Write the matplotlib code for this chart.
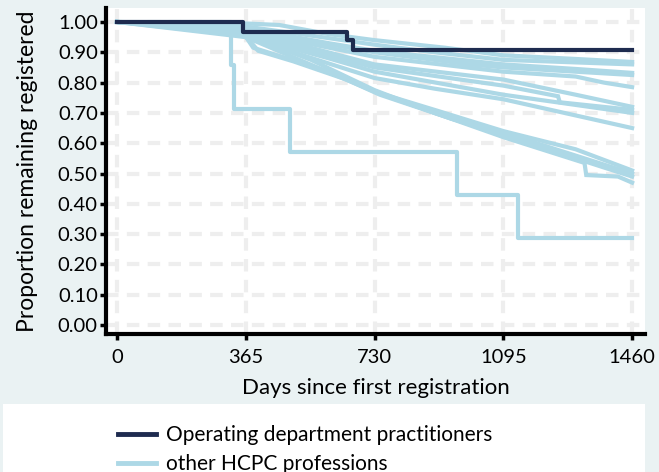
import matplotlib
matplotlib.use('Agg')
import matplotlib.pyplot as plt
from matplotlib.patches import Rectangle
from matplotlib.lines import Line2D

plt.rcParams['font.family'] = ['Lato', 'DejaVu Sans']

# operating department practitioners (step curve)
odp_days = [0, 357, 652, 669, 1460]
odp_surv = [1.0, 0.967, 0.94, 0.907, 0.907]

# small profession, drawn as a step curve
small_days = [0, 322, 332, 490, 963, 1137, 1460]
small_surv = [1.0, 0.857, 0.714, 0.571, 0.429, 0.286, 0.286]

c1_days = [0, 130, 365, 460, 600, 730, 930, 1095, 1300, 1460]
c1_surv = [1.0, 0.998, 0.995, 0.99, 0.96, 0.94, 0.915, 0.89, 0.878, 0.868]
c2_days = [0, 150, 365, 550, 730, 900, 1095, 1460]
c2_surv = [1.0, 0.995, 0.985, 0.955, 0.925, 0.9, 0.875, 0.86]
c3_days = [0, 200, 365, 600, 730, 1095, 1300, 1460]
c3_surv = [1.0, 0.99, 0.98, 0.93, 0.905, 0.86, 0.845, 0.832]
c4_days = [0, 200, 365, 730, 1000, 1095, 1460]
c4_surv = [1.0, 0.99, 0.975, 0.9, 0.86, 0.85, 0.825]
c5_days = [0, 250, 365, 730, 1095, 1300, 1380, 1460]
c5_surv = [1.0, 0.985, 0.97, 0.885, 0.836, 0.82, 0.8, 0.785]
c6_days = [0, 250, 365, 500, 730, 1095, 1300, 1460]
c6_surv = [1.0, 0.98, 0.965, 0.93, 0.86, 0.81, 0.76, 0.72]
c7_days = [0, 280, 365, 730, 1095, 1250, 1255, 1460]
c7_surv = [1.0, 0.975, 0.96, 0.85, 0.79, 0.755, 0.735, 0.71]
c8_days = [0, 300, 365, 600, 730, 1095, 1460]
c8_surv = [1.0, 0.975, 0.955, 0.88, 0.836, 0.76, 0.70]
c9_days = [0, 300, 365, 730, 900, 1095, 1460]
c9_surv = [1.0, 0.97, 0.95, 0.815, 0.78, 0.745, 0.65]
c10_days = [0, 250, 357, 386, 482, 632, 745, 900, 1095, 1300, 1460]
c10_surv = [1.0, 0.99, 0.965, 0.915, 0.88, 0.825, 0.765, 0.71, 0.64, 0.58, 0.51]
c11_days = [0, 250, 360, 400, 500, 650, 745, 950, 1095, 1460]
c11_surv = [1.0, 0.985, 0.96, 0.905, 0.87, 0.81, 0.76, 0.68, 0.635, 0.50]
c12_days = [0, 365, 550, 730, 900, 1095, 1300, 1460]
c12_surv = [1.0, 0.955, 0.875, 0.775, 0.70, 0.625, 0.55, 0.49]
c13_days = [0, 365, 730, 1095, 1325, 1330, 1420, 1460]
c13_surv = [1.0, 0.95, 0.77, 0.62, 0.535, 0.495, 0.49, 0.47]

other_days = [c1_days, c2_days, c3_days, c4_days, c5_days, c6_days, c7_days,
	c8_days, c9_days, c10_days, c11_days, c12_days, c13_days]
other_surv = [c1_surv, c2_surv, c3_surv, c4_surv, c5_surv, c6_surv, c7_surv,
	c8_surv, c9_surv, c10_surv, c11_surv, c12_surv, c13_surv]

x_ticks = [0, 365, 730, 1095, 1460]
y_ticks = [0.0, 0.1, 0.2, 0.3, 0.4, 0.5, 0.6, 0.7, 0.8, 0.9, 1.0]

bg = '#EAF2F3'
dark = '#1E2B4F'
light = '#ADD8E6'

fig = plt.figure(figsize=(6.59, 4.72), dpi=100, facecolor=bg)
ax = fig.add_axes([0.161, 0.292, 0.818, 0.691])
ax.set_facecolor('white')

for t in x_ticks:
	ax.axvline(t, color='#EEEEEE', lw=3, ls=(0, (3, 2)), zorder=0)
for t in y_ticks:
	ax.axhline(t, color='#EEEEEE', lw=3, ls=(0, (3, 2)), zorder=0)

for d, s in zip(other_days, other_surv):
	ax.plot(d, s, color=light, lw=3, solid_joinstyle='miter', zorder=2)
ax.step(small_days, small_surv, where='post', color=light, lw=3, zorder=2)
ax.step(odp_days, odp_surv, where='post', color=dark, lw=3, zorder=3)

ax.set_xlim(-31, 1497)
ax.set_ylim(-0.03, 1.046)
ax.set_xticks(x_ticks)
ax.set_yticks(y_ticks)
ax.set_yticklabels(['%.2f' % v for v in y_ticks])
ax.tick_params(axis='both', direction='out', length=4, width=2.5, labelsize=14.5, color='black')
ax.tick_params(axis='y', pad=2)
ax.tick_params(axis='x', pad=7)
for side in ['top', 'right']:
	ax.spines[side].set_visible(False)
for side in ['left', 'bottom']:
	ax.spines[side].set_linewidth(3)

ax.set_xlabel('Days since first registration', fontsize=16, labelpad=8)
ax.set_ylabel('Proportion remaining registered', fontsize=16.5, labelpad=14)

fig.patches.append(Rectangle((3 / 659, 0), 642 / 659, 68 / 472, transform=fig.transFigure,
	facecolor='white', edgecolor='none', zorder=0))
handles = [Line2D([], [], color=dark, lw=3.5), Line2D([], [], color=light, lw=3.5)]
fig.legend(handles, ['Operating department practitioners', 'other HCPC professions'],
	loc='upper left', bbox_to_anchor=(118 / 659, 1 - 425 / 472), frameon=False,
	fontsize=15, handlelength=1.8, handletextpad=0.5, labelspacing=0.45,
	borderpad=0, borderaxespad=0)

fig.savefig('out.png', dpi=100, facecolor=bg)
